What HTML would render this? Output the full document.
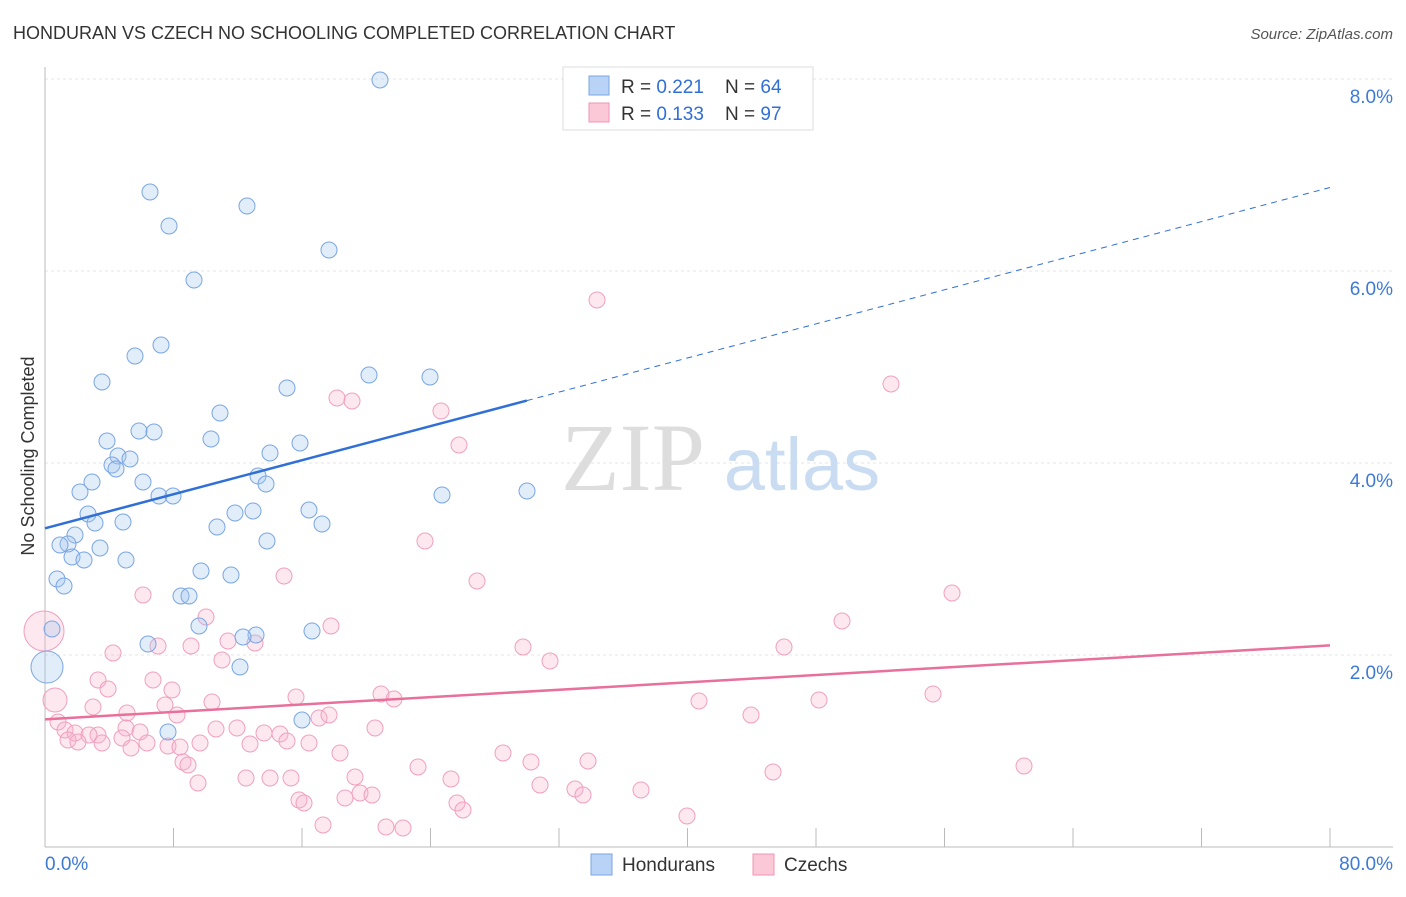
<!DOCTYPE html>
<html><head><meta charset="utf-8"><style>
body{margin:0;background:#fff;font-family:"Liberation Sans",sans-serif}
</style></head><body>
<svg width="1406" height="892" xmlns="http://www.w3.org/2000/svg">
<text x="13" y="39" font-size="18" fill="#333">HONDURAN VS CZECH NO SCHOOLING COMPLETED CORRELATION CHART</text>
<text x="1393" y="39" font-size="15" fill="#555" font-style="italic" text-anchor="end">Source: ZipAtlas.com</text>
<g id="grid"></g>
<text x="633" y="490" font-size="96" fill="#ddd" font-family="Liberation Serif,serif" text-anchor="middle">ZIP</text>
<text x="802" y="490" font-size="74" fill="#c9dcf1" text-anchor="middle">atlas</text>
<g id="pts"></g>
<g id="lines"></g>
<text transform="translate(34,456) rotate(-90)" font-size="18" fill="#333" text-anchor="middle">No Schooling Completed</text>
<g>
<rect x="563" y="67" width="250" height="63" fill="#fff" stroke="#ddd"/>
<rect x="589" y="76" width="20" height="19" fill="#b8d3f5" stroke="#7aa6e0"/>
<rect x="589" y="103" width="20" height="19" fill="#fbc8d8" stroke="#ef94b3"/>
<text x="621" y="93" font-size="19" fill="#333">R = <tspan fill="#2f6fd6">0.221</tspan><tspan x="725">N = </tspan><tspan fill="#2f6fd6">64</tspan></text>
<text x="621" y="120" font-size="19" fill="#333">R = <tspan fill="#2f6fd6">0.133</tspan><tspan x="725">N = </tspan><tspan fill="#2f6fd6">97</tspan></text>
</g>
<g>
<rect x="591" y="854" width="21" height="21" fill="#b8d3f5" stroke="#7aa6e0"/>
<text x="622" y="871" font-size="19" fill="#333">Hondurans</text>
<rect x="753" y="854" width="21" height="21" fill="#fbc8d8" stroke="#ef94b3"/>
<text x="784" y="871" font-size="19" fill="#333">Czechs</text>
</g>
</svg>
<script>
const yTicks=[2,4,6,8];
const xTickLabels=["0.0%","80.0%"];
const bluePts=[[380,80],[150,192],[247,206],[169,226],[329,250],[194,280],[161,345],[135,356],[102,382],[287,388],[369,375],[430,377],[220,413],[107,441],[139,431],[154,432],[211,439],[300,443],[270,453],[118,456],[130,459],[112,465],[116,469],[258,476],[266,484],[143,482],[92,482],[80,492],[159,496],[173,496],[442,495],[527,491],[88,514],[235,513],[253,511],[309,510],[95,523],[123,522],[217,527],[322,524],[75,535],[68,544],[60,545],[267,541],[100,548],[72,557],[84,560],[126,560],[201,571],[231,575],[57,579],[64,586],[181,596],[189,596],[199,626],[256,635],[243,637],[312,631],[52,629],[148,644],[47,667],[240,667],[302,720],[168,732]];
const pinkPts=[[597,300],[891,384],[337,398],[352,401],[441,411],[459,445],[425,541],[284,576],[477,581],[143,595],[952,593],[206,617],[331,626],[842,621],[44,631],[228,641],[255,643],[158,646],[191,646],[523,647],[784,647],[113,653],[222,660],[550,661],[98,680],[153,680],[108,689],[172,690],[55,700],[296,697],[381,694],[394,699],[212,702],[699,701],[819,700],[933,694],[165,705],[93,707],[319,718],[329,715],[751,715],[58,722],[127,713],[177,715],[375,728],[126,728],[237,728],[216,729],[65,730],[75,733],[98,735],[89,735],[140,732],[264,733],[280,734],[122,738],[68,740],[78,742],[102,743],[147,743],[287,741],[309,743],[168,746],[180,747],[200,743],[250,744],[131,748],[340,753],[503,753],[588,761],[531,762],[183,762],[188,765],[418,767],[773,772],[1024,766],[246,778],[270,778],[291,778],[355,777],[451,779],[540,785],[198,783],[575,789],[641,790],[360,793],[372,795],[345,798],[583,795],[299,800],[304,803],[457,803],[463,810],[687,816],[323,825],[386,827],[403,828]];
const X0=45,X1=1330,Y0=847,PY=96;
const xs=v=>X0+v*(X1-X0)/80, ys=v=>Y0-v*PY;
const toData=p=>[(p[0]-X0)*80/(X1-X0),(Y0-p[1])/PY];
const blueData=bluePts.map(toData), pinkData=pinkPts.map(toData);
const NS="http://www.w3.org/2000/svg";
function mk(t,a,parent){const e=document.createElementNS(NS,t);for(const k in a)e.setAttribute(k,a[k]);parent.appendChild(e);return e;}
const grid=document.getElementById('grid');
yTicks.forEach(v=>{
 const l=mk('line',{x1:45,x2:1393,y1:ys(v),y2:ys(v),stroke:'#e4e4e4','stroke-dasharray':'3,3'},grid);
 
 
 const t=mk('text',{x:1393,y:ys(v)+24,'font-size':19,fill:'#3d7ad6','text-anchor':'end'},grid);
 t.textContent=v.toFixed(1)+'%';
 
 
});
mk('line',{x1:45,x2:45,y1:67,y2:847,stroke:'#bbb'},grid);
mk('line',{x1:45,x2:1393,y1:847,y2:847,stroke:'#bbb'},grid);
for(let i=0;i<=10;i++){const l=mk('line',{x1:xs(i*8),x2:xs(i*8),y1:828,y2:847,stroke:'#bbb'},grid);
 
 }
[[45,'start',0],[1393,'end',1]].forEach(a=>{const t=mk('text',{x:a[0],y:870,'font-size':19,fill:'#3d7ad6','text-anchor':a[1]},grid);t.textContent=xTickLabels[a[2]];
 
 });
const pts=document.getElementById('pts');
function dot(d,fill,stroke,name){
 let r=8;
 if(d[0]<0.3&&Math.abs(d[1]-1.875)<0.02)r=16;
 if(d[0]<0.1&&Math.abs(d[1]-2.25)<0.03)r=20;
 if(d[0]<0.8&&Math.abs(d[1]-1.53)<0.02)r=12;
 const c=mk('circle',{cx:xs(d[0]),cy:ys(d[1]),r:r,fill:fill,stroke:stroke,'stroke-width':1},pts);
 
 
}
pinkData.forEach(d=>dot(d,'rgba(248,180,204,0.3)','#f0a0bd','czech-point'));
blueData.forEach(d=>dot(d,'rgba(160,196,240,0.3)','#7aa6e3','honduran-point'));
const lines=document.getElementById('lines');
const b=mk('line',{x1:xs(0),y1:ys(3.32),x2:xs(30),y2:ys(4.65),stroke:'#2f6fd6','stroke-width':2.5},lines);


const bd=mk('line',{x1:xs(30),y1:ys(4.65),x2:xs(80),y2:ys(6.87),stroke:'#2f6fd6','stroke-width':1,'stroke-dasharray':'6,5'},lines);


const p=mk('line',{x1:xs(0),y1:ys(1.33),x2:xs(80),y2:ys(2.1),stroke:'#e8709b','stroke-width':2.5},lines);


</script>
</body></html>
